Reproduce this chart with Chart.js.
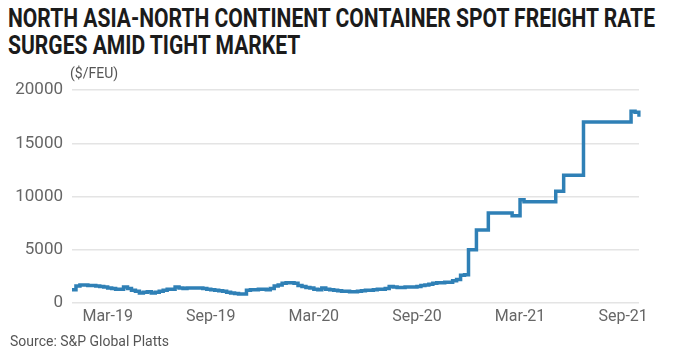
<!DOCTYPE html>
<html>
<head>
<meta charset="utf-8">
<script src="https://cdn.jsdelivr.net/npm/chart.js@4"></script>
<style>
  html, body { margin: 0; padding: 0; background: #fff; }
  body { width: 674px; height: 362px; position: relative; overflow: hidden; font-family: Roboto, sans-serif; }
  #title { position: absolute; left: 8px; top: 5px; font-weight: 700; font-size: 26px; line-height: 27px; color: #1b1b1b; white-space: nowrap; transform-origin: 0 0; }
  #unit { position: absolute; left: 70px; top: 65px; font-size: 14px; color: #555; }
  #source { position: absolute; left: 10px; top: 333px; font-size: 14px; color: #555; }
  #grafico { position: absolute; left: 0; top: 0; }
</style>
</head>
<body>
<div id="title"><div id="t1">NORTH ASIA-NORTH CONTINENT CONTAINER SPOT FREIGHT RATE</div><div>SURGES AMID TIGHT MARKET</div></div>
<canvas id="grafico" width="674" height="362"></canvas>
<div id="unit">($/FEU)</div>
<div id="source">Source: S&amp;P Global Platts</div>
<script>
// weekly assessments, first week starting 31 Dec 2018
const primeiraSemana = '2018-12-31';
const qtdSemanas = 144;

const fretes2019 = [
	1250, 1600, 1700, 1700, 1650, 1650, 1600, 1550, 1500, 1400, 1350, 1300, 1300,
	1500, 1350, 1200, 1100, 950, 1000, 1050, 950, 1000, 1100, 1200, 1300, 1300,
	1500, 1400, 1350, 1400, 1400, 1400, 1400, 1350, 1300, 1250, 1200, 1150, 1100,
	1000, 950, 900, 850, 850, 1200, 1250, 1250, 1300, 1300, 1250, 1350, 1600,
];
const fretes2020 = [
	1700, 1850, 1900, 1900, 1850, 1650, 1550, 1450, 1400, 1300, 1250, 1400, 1300,
	1250, 1200, 1150, 1100, 1100, 1050, 1050, 1100, 1150, 1200, 1200, 1250, 1300,
	1300, 1350, 1550, 1500, 1450, 1450, 1500, 1500, 1500, 1550, 1650, 1700, 1750,
	1850, 1900, 1900, 1950, 1950, 2100, 2200, 2600, 2650, 5000, 5000, 6850, 6850,
];
const fretes2021 = [
	6850, 8450, 8450, 8450, 8450, 8450, 8450, 8200, 8200, 9700, 9500, 9500, 9500,
	9500, 9500, 9500, 9500, 9500, 10500, 10500, 12000, 12000, 12000, 12000, 12000, 17000,
	17000, 17000, 17000, 17000, 17000, 17000, 17000, 17000, 17000, 17000, 17000, 18000, 17900,
	17500, 17500,
];
const fretes = [...fretes2019, ...fretes2020, ...fretes2021];

const datasMarcadas = ['2019-03-01', '2019-09-01', '2020-03-01', '2020-09-01', '2021-03-01', '2021-09-01'];
const rotulosMarcados = ['Mar-19', 'Sep-19', 'Mar-20', 'Sep-20', 'Mar-21', 'Sep-21'];

const ticksY = [0, 5000, 10000, 15000, 20000];

const DIA = 86400000;
const inicio = Date.parse(primeiraSemana);
const semanas = [];
for (let i = 0; i < qtdSemanas; i++) {
	semanas.push(new Date(inicio + i * 7 * DIA).toISOString().slice(0, 10));
}
// nearest week to each marked date
const rotuloPorIndice = {};
datasMarcadas.forEach((d, j) => {
	const idx = Math.round((Date.parse(d) - inicio) / (7 * DIA));
	rotuloPorIndice[idx] = rotulosMarcados[j];
});

// squeeze the title to the condensed look of the original
const t = document.getElementById('title');
const w = document.getElementById('t1').getBoundingClientRect().width;
t.style.transform = 'scaleX(' + (647 / w) + ')';

new Chart(document.getElementById('grafico'), {
	type: 'line',
	data: {
		labels: semanas,
		datasets: [
			{
				data: fretes,
				borderColor: '#2f80b6',
				borderWidth: 3.5,
				pointRadius: 0,
				stepped: true,
				fill: false,
			},
		],
	},
	options: {
		responsive: false,
		animation: false,
		layout: {
			padding: { top: 90, right: 35, left: 0, bottom: 0 },
		},
		plugins: {
			legend: { display: false },
			tooltip: { enabled: false },
		},
		scales: {
			x: {
				type: 'category',
				afterFit: (s) => { s.height = 59; },
				grid: { display: false, drawTicks: false },
				border: { display: false },
				ticks: {
					autoSkip: false,
					maxRotation: 0,
					padding: 4,
					color: '#666',
					font: { family: 'Roboto', size: 16 },
					callback: (v, i) => rotuloPorIndice[i] ?? null,
				},
			},
			y: {
				min: 0,
				max: 20000,
				afterFit: (s) => { s.width = 72; },
				afterBuildTicks: (s) => { s.ticks = ticksY.map((v) => ({ value: v })); },
				grid: { color: '#e4e4e4', lineWidth: 1.5, drawTicks: false },
				border: { display: false },
				ticks: {
					padding: 9,
					color: '#666',
					font: { family: 'Roboto', size: 17 },
					callback: (v) => String(v),
				},
			},
		},
	},
});
</script>
</body>
</html>
